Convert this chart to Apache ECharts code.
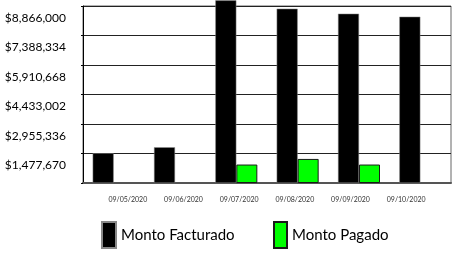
<!DOCTYPE html>
<html lang="es">
<head>
  <meta charset="UTF-8">
  <title>Monto Facturado vs Monto Pagado</title>
  <style>
    * {
      box-sizing: border-box;
      padding: 0;
      margin: 0;
    }
    html, body, #main {
      width: 100%;
      height: 100%;
      background: #fff;
    }
  </style>
  <script src="https://cdn.jsdelivr.net/npm/echarts@6/dist/echarts.min.js"></script>
</head>
<body>
  <div id="main"></div>
  <script>
    // datos
    var categories = ['09/05/2020', '09/06/2020', '09/07/2020', '09/08/2020', '09/09/2020', '09/10/2020'];
    var montoFacturado = [1490000, 1790000, 9150000, 8730000, 8480000, 8330000];
    var montoPagado = [null, null, 925000, 1206000, 925000, null];
    var yTickLabels = ['$1,477,670', '$2,955,336', '$4,433,002', '$5,910,668', '$7,388,334', '$8,866,000'];
    var yMax = 8866000;
    var yStep = yMax / 6;

    var myChart = echarts.init(document.getElementById('main'));
    var option = {
      animation: false,
      grid: [
        { left: 83, right: 1, top: 6, bottom: 70, show: true, borderColor: '#666', borderWidth: 1 },
        { left: 100, right: 18, top: 185, height: 5 }
      ],
      legend: [
        {
          data: ['Monto Facturado'], left: 101, top: 221, padding: 0,
          itemWidth: 14, itemHeight: 26, icon: 'rect',
          textStyle: { fontFamily: 'Lato', fontSize: 15, color: '#000' }
        },
        {
          data: ['Monto Pagado'], left: 273, top: 221, padding: 0,
          itemWidth: 13, itemHeight: 26, icon: 'rect',
          textStyle: { fontFamily: 'Lato', fontSize: 15, color: '#000' }
        }
      ],
      xAxis: [
        {
          type: 'category', gridIndex: 0, data: categories,
          axisLine: { lineStyle: { color: '#555', width: 2 } },
          axisTick: { show: false },
          axisLabel: { show: false }
        },
        {
          type: 'category', gridIndex: 1, data: categories,
          axisLine: { show: false },
          axisTick: { show: false },
          axisLabel: { fontFamily: 'Lato', fontSize: 7, color: '#333', margin: 6 }
        }
      ],
      yAxis: [
        {
          type: 'value', gridIndex: 0, position: 'left',
          min: 0, max: yMax, interval: yStep,
          axisLine: { show: true, lineStyle: { color: '#000' } },
          axisTick: { show: true, length: 2, lineStyle: { color: '#000' } },
          splitLine: { lineStyle: { color: '#222' } },
          // labels hang just below their gridline, inside the band
          axisLabel: {
            fontFamily: 'Lato', fontSize: 12, color: '#000', margin: 17,
            verticalAlign: 'top', padding: [6, 0, 0, 0],
            formatter: function (v, i) { return i === 0 ? '' : (yTickLabels[i - 1] || ''); }
          }
        },
        { type: 'value', gridIndex: 1, show: false, min: 0, max: 1 }
      ],
      series: [
        {
          name: 'Monto Facturado', type: 'bar', data: montoFacturado,
          barWidth: 21, barGap: '0%', clip: false,
          itemStyle: { color: '#000', borderColor: '#888', borderWidth: 0.5 }
        },
        {
          name: 'Monto Pagado', type: 'bar', data: montoPagado,
          barWidth: 21,
          itemStyle: { color: '#00ff00', borderColor: '#1a1a1a', borderWidth: 1 }
        }
      ]
    };
    myChart.setOption(option);
    window.onresize = myChart.resize;
  </script>
</body>
</html>
